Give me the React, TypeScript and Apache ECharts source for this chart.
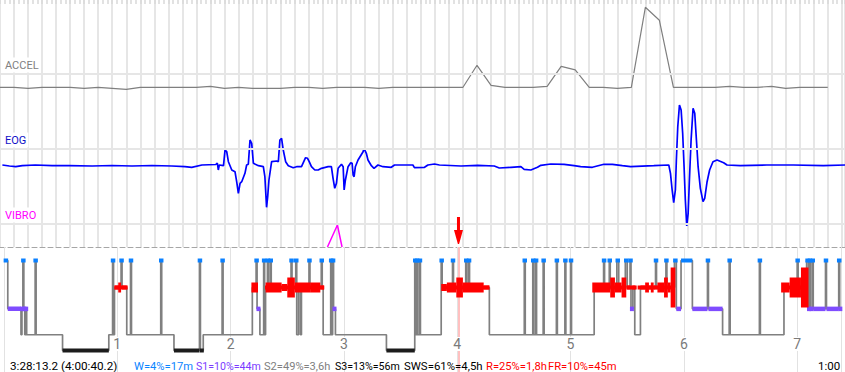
import React, { useEffect, useRef } from "react";
import * as echarts from "echarts";

// ---------- Signal window (60 s) ----------
const signalWindowEnd = 60.23; // seconds visible across the panel
const channelNames = ["ACCEL", "EOG", "VIBRO"];
const channelColors = ["#808080", "#1010c8", "#ff00ff"];

// ACCEL, 1 sample per second (t = 0..59 s)
const accelValues = [
  0, 0, -1, 0, 0, 0, -1, 0, -1, -2,
  0, 0, 0, 0, 0, 1, -1, 0, -1, -1,
  -1, 0, 0, -1, 0, 0, 0, -1, 0, 0,
  0, 0, 0, 0, 22, 2, 0, 0, 0, 1,
  21, 17.5, 0, 0, -1, 0, 80, 67, 0, 0,
  0, 0, 1, 0, 0, 1, -1, 0, 0, 0,
];

// EOG: time (s) and amplitude
const eogTime = [
  0.17, 0.67, 1.12, 1.59, 2.52, 3.72, 4.91, 6.57, 7.99, 9.41, 10.83, 12.25, 13.18, 13.67, 14.39,
  15.38, 15.49, 15.56, 15.63, 15.93, 16.04, 16.16, 16.28, 16.52, 16.75, 16.87, 16.99, 17.11, 17.23,
  17.46, 17.58, 17.7, 17.82, 17.94, 18.06, 18.42, 18.77, 18.88, 19.0, 19.08, 19.17, 19.36, 19.72,
  19.84, 19.95, 20.07, 20.19, 20.36, 20.55, 20.9, 21.14, 21.49, 21.78, 21.92, 22.04, 22.2, 22.44,
  22.68, 22.91, 23.39, 23.62, 23.74, 23.86, 23.98, 24.1, 24.34, 24.46, 24.53, 24.62, 24.81, 25.0,
  25.1, 25.17, 25.24, 25.33, 25.52, 25.88, 25.95, 26.11, 26.23, 26.47, 26.66, 26.94, 27.3, 27.89,
  28.12, 29.43, 29.54, 30.26, 30.5, 30.97, 31.32, 32.86, 34.05, 35.23, 35.59, 36.42, 37.13, 37.36,
  37.84, 38.31, 38.55, 39.26, 40.21, 40.92, 41.39, 42.22, 43.05, 43.65, 44.36, 44.95, 46.6, 47.67,
  47.79, 47.91, 48.02, 48.14, 48.21, 48.31, 48.43, 48.55, 48.66, 48.76, 48.85, 48.95, 49.05, 49.14,
  49.26, 49.4, 49.52, 49.64, 49.76, 49.92, 50.11, 50.23, 50.4, 50.58, 50.82, 51.11, 51.58, 51.82,
  52.76, 54.66, 56.55, 58.68, 60.23,
];
const eogValue = [
  0, -1, -1.7, -0.7, 0, -0.7, -0.7, -1, -0.5, -1, -0.5, -1, -1.7, -2.3, 0,
  0.5, 2, -5, 0, -0.7, 15, 13.3, 3.3, -5, -6.7, -16.7, -28.3, -18.3, -16.7,
  -8.3, 0, 0.7, 25, 21.7, 1.7, -0.7, -1.7, -11.7, -42.3, -31.7, -15, 3.3, 4,
  3.3, 25, 26.7, 15, 3.3, -0.7, -2.7, -1.7, -1.7, 7.3, 6.7, 3.3, -1.7, -5,
  -5, -3.3, -1.7, -1.7, -13.3, -23.3, -18.3, -3.3, 0.7, -1.7, -25, -15, -1.7, 2.3,
  1.7, -10, -11.7, -1.7, 5, 13.3, 16.7, 11.7, 5, -0.7, -3.3, 0, -1.7, -2.3,
  0, 0, -2.7, -2.3, 0, 1, 0, -1, -0.3, -1, -3, -2.3, -1.7, -4.3,
  -5, -2.3, -0.3, 1, 0.7, -0.7, -1.7, -2.3, 0.7, 0.7, -0.7, -1.7, -0.7, 0,
  -8.3, -25, -37.7, -25, 5, 38.3, 60, 55, 31.7, -1.7, -35, -61, -48.3, -15,
  25, 56.7, 51.7, 25, -1.7, -23.3, -36.7, -33.3, -16.7, -5, 3.3, 5, 2.3, 0,
  -0.7, 0, 0, -0.7, 0,
];

// VIBRO: only the one pulse leaves the baseline
const vibroTime = [23.34, 24.05, 24.38];
const vibroValue = [0, 22, 0];

// ---------- Hypnogram (30 s epochs, 120 per hour) ----------
const epochsPerHour = 120;
const recordEndEpoch = 886.4;
const cursorEpoch = 481.3; // 4:00:40.2
const stageOrder = ["W", "R", "S1", "S2", "S3"];
const stageDepth = [0, 1.2, 2.15, 3.3, 4];

const hypnogram: [number, string][] = [
  [0, "W"], [4, "S1"], [18, "S2"], [19, "S1"], [20, "W"], [21, "S1"], [22, "S2"], [23, "S1"], [24, "S2"],
  [33, "W"], [34, "S2"], [62, "S3"], [111, "S2"], [115, "W"], [116, "S2"], [117, "R"], [124, "W"], [125, "R"],
  [130, "S2"], [134, "W"], [135, "S2"], [166, "W"], [167, "S2"], [180, "S3"], [207, "W"], [208, "S3"], [211, "S2"],
  [231, "W"], [232, "S2"], [263, "R"], [267, "W"], [268, "S1"], [271, "S2"], [275, "W"], [276, "S2"], [277, "R"],
  [279, "W"], [280, "R"], [282, "W"], [283, "R"], [304, "W"], [305, "R"], [309, "W"], [310, "S2"], [312, "R"],
  [314, "S2"], [315, "R"], [323, "W"], [324, "R"], [336, "W"], [337, "R"], [338, "S2"], [346, "W"], [347, "S2"],
  [348, "W"], [349, "S1"], [351, "S2"], [405, "S3"], [435, "W"], [436, "S2"], [437, "W"], [438, "S2"], [440, "W"],
  [441, "S2"], [463, "W"], [464, "R"], [475, "W"], [476, "R"], [489, "W"], [490, "R"], [492, "W"], [493, "R"],
  [514, "S2"], [551, "W"], [552, "S2"], [560, "W"], [561, "S2"], [563, "W"], [564, "S2"], [571, "W"], [572, "S2"],
  [585, "W"], [586, "S2"], [594, "W"], [595, "S2"], [600, "W"], [601, "S2"], [625, "R"], [635, "W"], [636, "R"],
  [641, "W"], [642, "R"], [649, "W"], [651, "R"], [658, "W"], [660, "R"], [663, "W"], [664, "S1"], [666, "R"],
  [668, "S2"], [674, "R"], [690, "W"], [691, "R"], [701, "W"], [702, "R"], [710, "W"], [712, "S1"], [717, "W"],
  [729, "S1"], [745, "W"], [746, "S1"], [761, "S2"], [768, "W"], [769, "S2"], [800, "W"], [801, "S2"], [826, "R"],
  [840, "W"], [841, "R"], [850, "W"], [852, "S1"], [853, "W"], [854, "S1"], [856, "W"], [857, "S1"], [870, "W"],
  [871, "S1"], [884, "W"], [885, "S1"],
];

// REM density bands: [startEpoch, endEpoch, level 1..5]
const remDensity: [number, number, number][] = [
  [117, 131, 1], [121, 124, 3], [262, 269, 3], [277, 294, 3], [294, 300, 2], [300, 308, 4], [308, 325, 3],
  [325, 335, 3], [335, 339, 1], [463, 469, 2], [469, 479, 3], [479, 486, 4], [486, 508, 3], [508, 514, 1],
  [623, 642, 3], [642, 647, 4], [647, 654, 3], [654, 659, 4], [659, 670, 1], [671, 679, 1], [679, 683, 3],
  [683, 685, 1], [685, 688, 3], [688, 692, 1], [692, 699, 3], [699, 703, 4], [703, 706, 3], [706, 711, 5],
  [823, 832, 3], [832, 844, 4], [844, 852, 5],
];

// ---------- Status bar ----------
const statusTexts = [
  "3:28:13.2 (4:00:40.2)", "W=4%=17m", "S1=10%=44m", "S2=49%=3,6h", "S3=13%=56m",
  "SWS=61%=4,5h", "R=25%=1,8h", "FR=10%=45m", "1:00",
];
const statusColors = ["#000", "#0a84ff", "#7b3cff", "#808080", "#000", "#000", "#ff0000", "#ff0000", "#000"];
const statusX = [10, 134, 196, 264, 335, 404, 486, 548, 818];
const statusFontSize = [11.7, 11.2, 10.6, 11.1, 10.6, 11.4, 11.2, 11.2, 11.5];

// layout/style
const channelLabelY = [65, 140, 215];
const channelSeparatorRows = [74, 149, 224];
const stageColor = ["#0a80ff", "#ff0000", "#7f4cff", "#808080", "#1c1c1c"];
const stageBarH = [4, 4, 4.5, 2, 4];
const stageMinW = [4.5, 3, 4, 0, 4];
const remLevelH = [0, 4, 7, 10, 20, 40];

function buildOption() {
  const segs = hypnogram.map(([e, s], i) => [
    e,
    i + 1 < hypnogram.length ? hypnogram[i + 1][0] : recordEndEpoch,
    stageOrder.indexOf(s),
  ]);
  const stepData = hypnogram.map(([e, s]) => [e, stageDepth[stageOrder.indexOf(s)]]);
  stepData.push([recordEndEpoch, stepData[stepData.length - 1][1]]);

  const graphic: any[] = [];
  channelNames.forEach((n, i) => {
    graphic.push({
      type: "text",
      x: 3,
      y: channelLabelY[i],
      z: 10,
      style: {
        text: n,
        fill: channelColors[i],
        font: "11px Roboto",
        verticalAlign: "middle",
        backgroundColor: "#ffffff",
        padding: [2, 2],
      },
    });
  });
  statusTexts.forEach((t, i) => {
    graphic.push({
      type: "text",
      x: statusX[i],
      y: 366,
      z: 10,
      style: { text: t, fill: statusColors[i], font: `${statusFontSize[i]}px Roboto`, verticalAlign: "middle" },
    });
  });

  return {
    animation: false,
    grid: [
      { left: -2.4, top: 0, width: 847.4, height: 247 },
      { left: 0, top: 247, width: 845, height: 125 },
    ],
    xAxis: [
      {
        gridIndex: 0, type: "value", min: 0, max: signalWindowEnd, position: "bottom",
        axisLine: { show: true, onZero: false, lineStyle: { color: "#a6a6a6", type: [5, 3], width: 1 } },
        axisTick: { show: false }, axisLabel: { show: false }, splitLine: { show: false },
      },
      {
        gridIndex: 0, type: "value", min: 0, max: signalWindowEnd, interval: 1, position: "top",
        axisLine: { show: false, onZero: false },
        axisTick: { show: true, inside: true, length: 4, lineStyle: { color: "#d9d9d9", width: 1.5 } },
        minorTick: { show: true, splitNumber: 3, length: 4, lineStyle: { color: "#d9d9d9", width: 1.5 } },
        axisLabel: { show: false },
        splitLine: { show: true, lineStyle: { color: "#e6e6e6", width: 2 } },
      },
      {
        gridIndex: 1, type: "value", min: 0, max: recordEndEpoch, interval: epochsPerHour, position: "bottom",
        z: 2,
        axisLine: { show: false, onZero: false }, axisTick: { show: false },
        axisLabel: {
          show: true, inside: true, margin: 21, color: "#7a7a7a", fontFamily: "Roboto", fontSize: 14,
          backgroundColor: "#ffffff", padding: [0, 1],
          formatter: (v: number) => {
            const h = v / epochsPerHour;
            return v > 0 && Math.abs(h - Math.round(h)) < 1e-6 ? String(Math.round(h)) : "";
          },
        },
        splitLine: { show: true, lineStyle: { color: "#e2e2e2", width: 1 } },
      },
    ],
    yAxis: [
      { gridIndex: 0, type: "value", min: -159.7, max: 87.3, show: false },
      { gridIndex: 0, type: "value", min: -82, max: 165, show: false },
      { gridIndex: 0, type: "value", min: 0, max: 247, show: false },
      { gridIndex: 0, type: "value", min: 0, max: 247, inverse: true, show: false },
      { gridIndex: 1, type: "value", min: -0.6, max: 4.9556, inverse: true, show: false },
    ],
    graphic,
    series: [
      {
        type: "line", xAxisIndex: 0, yAxisIndex: 3, data: [], z: 1, silent: true,
        markLine: {
          silent: true, symbol: ["none", "none"], label: { show: false },
          lineStyle: { color: "#e6e6e6", width: 2, type: "solid" },
          data: channelSeparatorRows.map((y) => ({ yAxis: y })),
        },
      },
      {
        type: "line", name: "ACCEL", xAxisIndex: 0, yAxisIndex: 0, z: 3, silent: true, showSymbol: false,
        data: accelValues.map((v, i) => [i, v]),
        lineStyle: { color: "#7f7f7f", width: 1.2 },
      },
      {
        type: "line", name: "EOG", xAxisIndex: 0, yAxisIndex: 1, z: 3, silent: true, showSymbol: false,
        data: eogTime.map((t, i) => [t, eogValue[i]]),
        lineStyle: { color: "#0000ff", width: 1.7 },
      },
      {
        type: "line", name: "VIBRO", xAxisIndex: 0, yAxisIndex: 2, z: 3, silent: true, showSymbol: false,
        data: vibroTime.map((t, i) => [t, vibroValue[i]]),
        lineStyle: { color: "#ff00ff", width: 1.5 },
      },
      {
        type: "custom", name: "cursor line", xAxisIndex: 2, yAxisIndex: 4, z: 1, clip: false, silent: true,
        data: [[cursorEpoch, 0]],
        renderItem: (params: any, api: any) => {
          const p = api.coord([api.value(0), 0]);
          const cs = params.coordSys;
          return {
            type: "rect",
            shape: { x: p[0] - 1.5, y: cs.y, width: 3, height: cs.height },
            style: { fill: "#ffc0c0" },
          };
        },
      },
      {
        type: "custom", name: "cursor arrow", xAxisIndex: 2, yAxisIndex: 4, z: 20, clip: false, silent: true,
        data: [[cursorEpoch, 0]],
        renderItem: (params: any, api: any) => {
          const p = api.coord([api.value(0), 0]);
          const cx = p[0];
          const top = params.coordSys.y;
          return {
            type: "polygon",
            z2: 100,
            shape: {
              points: [
                [cx - 1.5, top - 30], [cx + 1.5, top - 30], [cx + 1.5, top - 17], [cx + 4.5, top - 17],
                [cx + 0.6, top - 3], [cx - 0.6, top - 3], [cx - 4.5, top - 17], [cx - 1.5, top - 17],
              ],
            },
            style: { fill: "#ff0000" },
          };
        },
      },
      {
        type: "line", name: "hypnogram", xAxisIndex: 2, yAxisIndex: 4, z: 3, silent: true, showSymbol: false,
        step: "end", data: stepData, lineStyle: { color: "#808080", width: 1.7 },
      },
      {
        type: "custom", name: "stages", xAxisIndex: 2, yAxisIndex: 4, z: 4, silent: true,
        data: segs,
        renderItem: (params: any, api: any) => {
          const st = api.value(2);
          if (stageOrder[st] === "S2") return null;
          const d = stageDepth[st];
          const p0 = api.coord([api.value(0), d]);
          const p1 = api.coord([api.value(1), d]);
          const w = Math.max(p1[0] - p0[0], stageMinW[st]);
          const h = stageBarH[st];
          return {
            type: "rect",
            shape: { x: (p0[0] + p1[0]) / 2 - w / 2, y: p0[1] - h / 2, width: w, height: h },
            style: { fill: stageColor[st] },
          };
        },
      },
      {
        type: "custom", name: "REM density", xAxisIndex: 2, yAxisIndex: 4, z: 5, silent: true,
        data: remDensity,
        renderItem: (params: any, api: any) => {
          const d = stageDepth[1];
          const p0 = api.coord([api.value(0), d]);
          const p1 = api.coord([api.value(1), d]);
          const h = remLevelH[api.value(2)];
          return {
            type: "rect",
            shape: { x: p0[0], y: p0[1] - h / 2, width: Math.max(p1[0] - p0[0], 2), height: h },
            style: { fill: "#ff0000" },
          };
        },
      },
    ],
  };
}

export default function App() {
  const ref = useRef<HTMLDivElement>(null);
  useEffect(() => {
    document.body.style.margin = "0";
    const chart = echarts.init(ref.current!, undefined, { renderer: "svg" });
    chart.setOption(buildOption() as any);
    return () => chart.dispose();
  }, []);
  return <div ref={ref} style={{ width: 845, height: 372, background: "#fff" }} />;
}
